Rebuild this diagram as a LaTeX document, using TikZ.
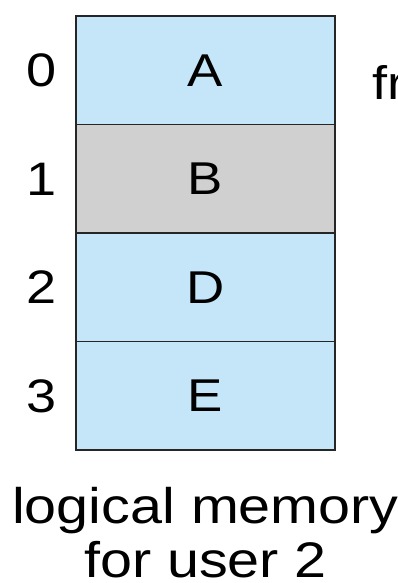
\documentclass[tikz,border=0pt]{standalone}
\usepackage{fontspec}
\setmainfont{Liberation Sans}[FakeStretch=1.15]
\usetikzlibrary{positioning}
\definecolor{pageblue}{RGB}{197,230,248}
\definecolor{pagegray}{RGB}{208,208,208}

\begin{document}
\begin{tikzpicture}[
  x=1pt, y=1pt,
  page/.style={draw=black!85, line width=1.5pt, minimum width=259pt, minimum height=108.5pt, inner sep=0pt, outer sep=0pt, font=\fontsize{46}{54}\selectfont},
  idx/.style={inner sep=0pt, font=\fontsize{47}{54}\selectfont},
  memlabel/.style={inner sep=0pt, align=center, font=\fontsize{50}{54}\selectfont},
  node distance=0pt
]
\useasboundingbox (0,0) rectangle (398,583);
\clip (0,0) rectangle (398,583);
% pages of logical memory, stacked
\node[page, fill=pageblue] (pA) at (205.5,512.5) {A};
\node[page, fill=pagegray, below=of pA] (pB) {B};
\node[page, fill=pageblue, below=of pB] (pD) {D};
\node[page, fill=pageblue, below=of pD] (pE) {E};
% page numbers
\node[idx, left=19pt of pA] (n0) {0};
\node[idx, left=19pt of pB] (n1) {1};
\node[idx, left=19pt of pD] (n2) {2};
\node[idx, left=19pt of pE] (n3) {3};
% cut-off text at the right edge
\node[idx, anchor=base west] (fr) at (372,483) {fr};
\node[memlabel, below=37pt of pE] (title) {logical memory\\for user 2};
\end{tikzpicture}
\end{document}
